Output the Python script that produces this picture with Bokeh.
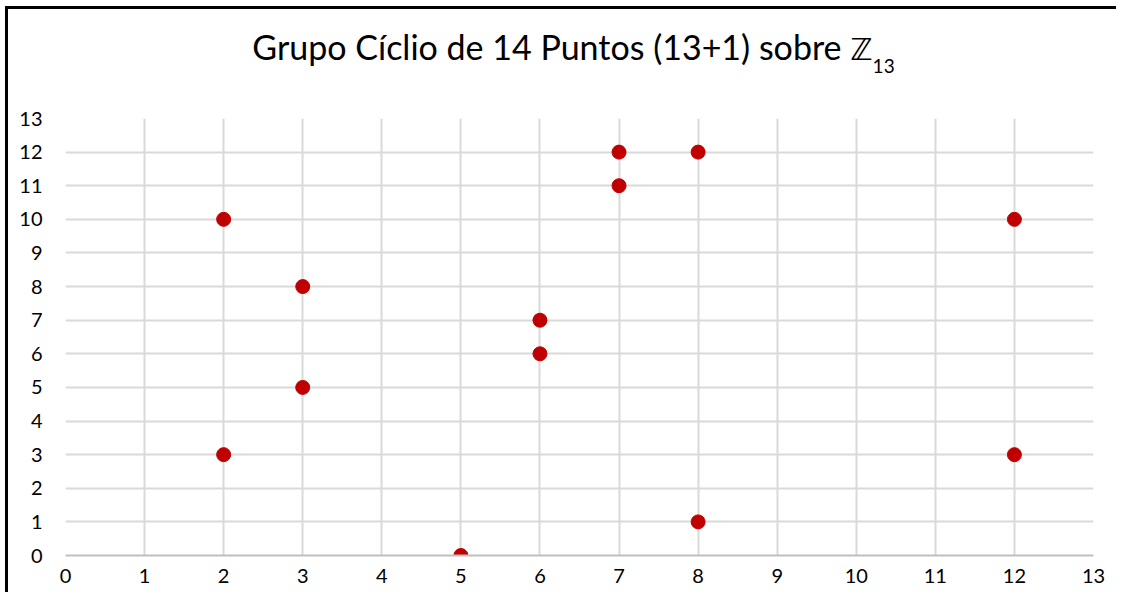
from bokeh.plotting import figure
from bokeh.models import Range1d, FixedTicker, Spacer, Div
from bokeh.layouts import row, column
from bokeh.embed import file_html
from bokeh.resources import INLINE

xs = [2, 3, 3, 2, 5, 6, 6, 7, 7, 8, 8, 12, 12]
ys = [10, 8, 5, 3, 0, 7, 6, 12, 11, 12, 1, 10, 3]
ticks = list(range(0, 14))
title_main = "Grupo Cíclio de 14 Puntos (13+1) sobre "
title_set = "ℤ"
title_sub = "13"

FONT = "Lato"

title_div = Div(
    text=(f'<div style="font-family:{FONT};font-size:34px;line-height:40px;width:1111px;box-sizing:border-box;'
          f'padding-top:18px;padding-left:20px;text-align:center;color:black;white-space:nowrap">'
          f'{title_main}<span style="font-family:\'DejaVu Sans\';font-size:30px">{title_set}</span>'
          f'<span style="font-size:19px;vertical-align:-13px">{title_sub}</span></div>'),
    width=1111, height=96, margin=0)
title_div.styles = {"border-left": "3px solid black", "border-top": "3px solid black",
                    "background": "white"}

p = figure(width=1111, height=490, output_backend="svg", toolbar_location=None,
           x_range=Range1d(0, 13), y_range=Range1d(0, 13),
           min_border_left=57, min_border_right=26, min_border_top=16, min_border_bottom=37)
p.styles = {"border-left": "3px solid black"}
p.outline_line_color = None
p.background_fill_color = "white"
p.border_fill_color = "white"

for ax in (p.xaxis[0], p.yaxis[0]):
    ax.ticker = FixedTicker(ticks=ticks)
    ax.major_tick_line_color = None
    ax.minor_tick_line_color = None
    ax.major_tick_out = 0
    ax.major_tick_in = 0
    ax.minor_tick_out = 0
    ax.major_label_text_font = FONT
    ax.major_label_text_font_size = "20px"
    ax.major_label_text_color = "black"
p.xaxis.axis_line_color = "#BFBFBF"
p.xaxis.axis_line_width = 2
p.xaxis.major_label_standoff = 13
p.yaxis.axis_line_color = None
p.yaxis.major_label_standoff = 23

p.grid.grid_line_color = "#D9D9D9"
p.grid.grid_line_width = 2

p.scatter(xs, ys, size=14, fill_color="#C00000", line_color="#C00000")

layout = row(Spacer(width=5), column(Spacer(height=6), title_div, p, spacing=0), spacing=0)

open("out.html", "w").write(file_html(layout, INLINE))
